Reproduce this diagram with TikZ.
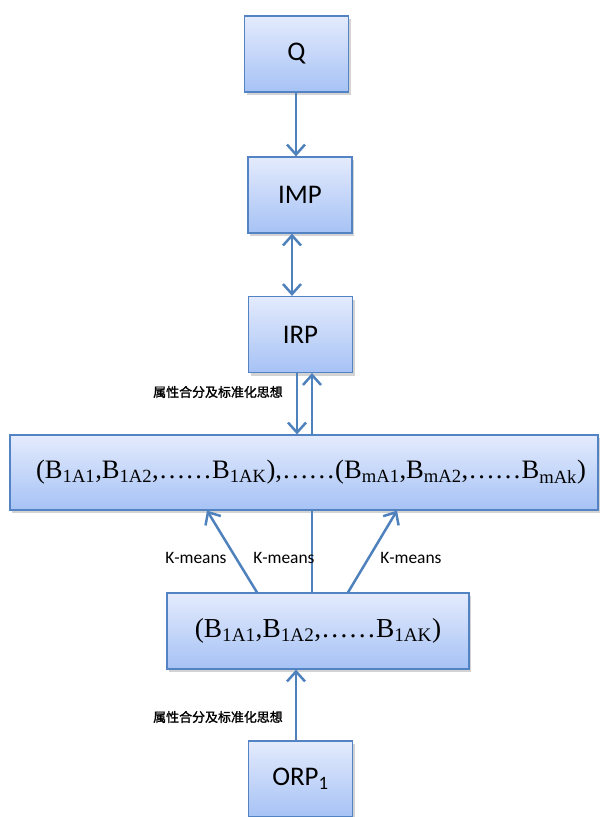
\documentclass[tikz,border=0pt]{standalone}
\usepackage{fontspec}
\setmainfont{Liberation Serif}
\newfontfamily\carlito{Carlito}
\newfontfamily\cjk[FakeBold=1.5]{Noto Sans CJK SC}
\usetikzlibrary{arrows.meta,shadows}
\definecolor{boxtop}{RGB}{228,235,253}
\definecolor{boxbot}{RGB}{166,194,245}
\definecolor{boxline}{RGB}{84,131,196}
\definecolor{arrowcol}{RGB}{79,129,189}
\newcommand\bsub[1]{B\textsubscript{#1}}
\tikzset{
  blk/.style={draw=boxline,line width=1.2bp,top color=boxtop,bottom color=boxbot,
    inner sep=0pt,drop shadow={shadow xshift=2bp,shadow yshift=-3bp,opacity=0.35}},
  small/.style={blk,minimum width=104bp,minimum height=76bp,font=\carlito\fontsize{27}{30}\selectfont},
  link/.style={draw=arrowcol,line width=2.5bp,-{Straight Barb[length=10bp,width=18bp,line width=2.5bp]}},
  twoway/.style={link,{Straight Barb[length=10bp,width=18bp,line width=2.5bp]}-{Straight Barb[length=10bp,width=18bp,line width=2.5bp]}},
  note/.style={font=\cjk\fontsize{13}{15}\selectfont},
  km/.style={font=\carlito\fontsize{17.5}{20}\selectfont}
}
\begin{document}
\begin{tikzpicture}[x=1bp,y=-1bp]
\useasboundingbox (0,0) rectangle (601,817);

\node (Q) at (296.5,54)[small] {Q};
\node (IMP) at (300,195)[small] {IMP};
\node (IRP) at (300.5,334.5)[small] {IRP};
\node (ALL) at (304,472.5)[blk,minimum width=588bp,minimum height=75bp,font=\fontsize{26.7}{30}\selectfont]
  {\hspace{14bp}(\bsub{1A1},\bsub{1A2},……\bsub{1AK}),……(\bsub{mA1},\bsub{mA2},……\bsub{mAk})};
\node (ONE) at (318,631)[blk,minimum width=302bp,minimum height=76bp,font=\fontsize{27.5}{30}\selectfont]
  {(\bsub{1A1},\bsub{1A2},……\bsub{1AK})};
\node (ORP) at (300.5,779)[small] {ORP\textsubscript{1}};

% arrows
\draw[link] (Q.south -| 296,0) -- (IMP.north -| 296,0);
\draw[twoway] (IMP.south -| 292,0) -- (IRP.north -| 292,0);
\draw[link] (IRP.south -| 297,0) -- (ALL.north -| 297,0);
\draw[link] (ALL.north -| 312,0) -- (IRP.south -| 312,0);
\draw[link] (ONE.north -| 257,0) -- (ALL.south -| 207,0);
\draw[draw=arrowcol,line width=2.5bp] (ONE.north -| 312,0) -- (ALL.south -| 312,0);
\draw[link] (ONE.north -| 348,0) -- (ALL.south -| 397,0);
\draw[link] (ORP.north -| 296,0) -- (ONE.south -| 296,0);

% labels
\node (n1) at (218,392)[note] {属性合分及标准化思想};
\node (n2) at (218,717)[note] {属性合分及标准化思想};
\node (k1) at (196,558)[km] {K-means};
\node (k2) at (284,558)[km] {K-means};
\node (k3) at (411,558)[km] {K-means};
\end{tikzpicture}
\end{document}
